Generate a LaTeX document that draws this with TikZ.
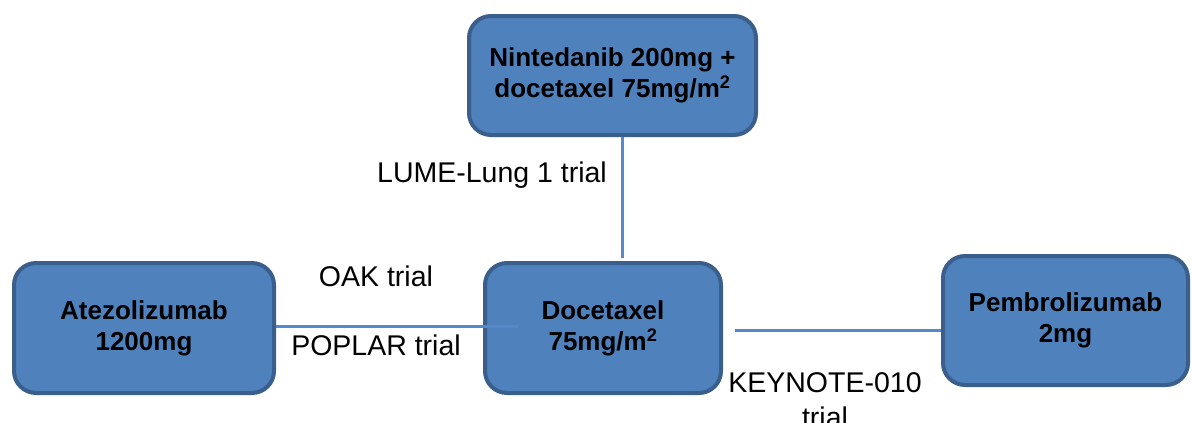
\documentclass[tikz,border=0pt]{standalone}
\usepackage{fontspec}
\setmainfont{Liberation Sans}
\definecolor{drugfill}{HTML}{4F81BD}
\definecolor{drugedge}{HTML}{3A5F8C}
\definecolor{trialline}{HTML}{5689C9}
\tikzset{drug/.style={draw=drugedge, fill=drugfill, line width=4pt, rounded corners=22pt,
    align=center, inner sep=0pt, font=\fontsize{26}{31}\selectfont\bfseries},
  trial/.style={align=center, inner sep=0pt, font=\fontsize{28.5}{35}\selectfont},
  link/.style={draw=trialline, line width=3pt}}

\begin{document}
\begin{tikzpicture}[x=1pt, y=-1pt]
    \useasboundingbox (0,0) rectangle (1192,423);
    \node[drug, minimum width=287pt, minimum height=119pt] (nint) at (612.5,75.5)
        {Nintedanib 200mg +\\docetaxel 75mg/m\textsuperscript{2}};
    \node[drug, minimum width=236pt, minimum height=130pt] (doc) at (603,328)
        {Docetaxel\\75mg/m\textsuperscript{2}};
    \node[drug, minimum width=260pt, minimum height=130pt] (atezo) at (144,328)
        {Atezolizumab\\1200mg};
    \node[drug, minimum width=245pt, minimum height=129pt] (pemb) at (1065.5,320.5)
        {Pembrolizumab\\2mg};
   % loose ends of the trial lines
    \coordinate (lumeend) at (622,258);
    \coordinate (oakend) at (518,326);
    \coordinate (keyend) at (735,330);
    \draw[link] (lumeend) -- (lumeend |- nint.south);
    \draw[link] (atezo.east |- oakend) -- (oakend);
    \draw[link] (keyend) -- (keyend -| pemb.west);
    \node[trial] (lume) at (492,175) {LUME-Lung 1 trial};
    \node[trial] (oak) at (376,276) {OAK trial};
    \node[trial] (poplar) at (376,345) {POPLAR trial};
    \node[trial, anchor=north] (keynote) at (825,372) {KEYNOTE-010\\trial};
\end{tikzpicture}
\end{document}
